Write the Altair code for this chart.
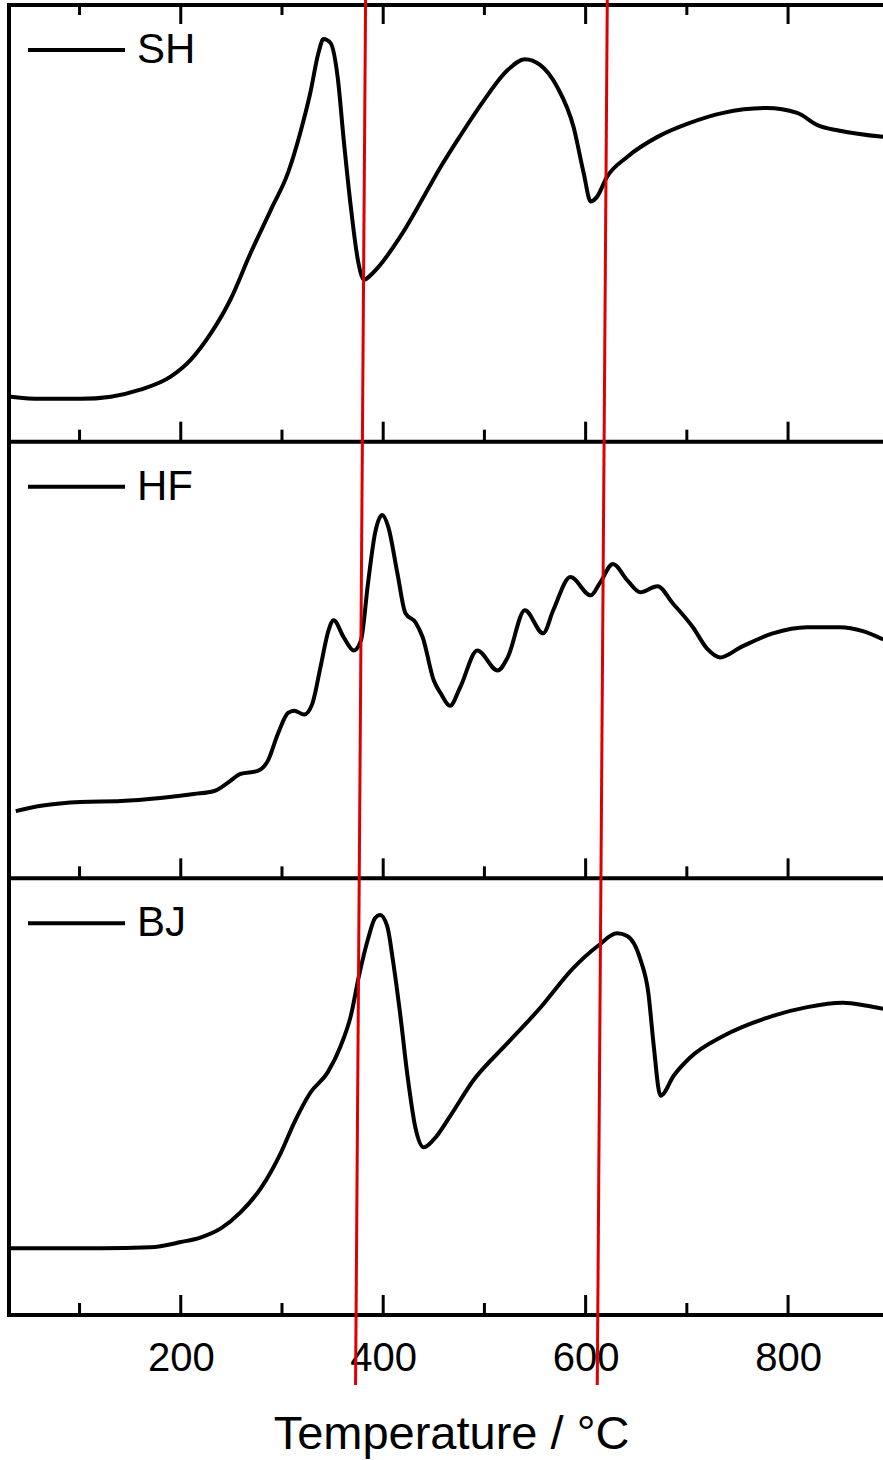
import altair as alt
import pandas as pd

# ---------------- data ----------------
series_names = ["SH", "HF", "BJ"]

sh_temp = [32, 62, 101, 131, 160, 190, 210, 230, 249, 269, 289, 306, 318, 328, 336, 341,
           348, 355, 361, 368, 375, 381, 390, 417, 441, 457, 476, 499, 523, 540, 555, 572,
           588, 598, 605, 611, 621, 641, 671, 703, 736, 779, 809, 829, 851, 894]
sh_signal = [10.3, 9.8, 9.8, 10.3, 11.9, 14.9, 18.8, 24.9, 32.5, 43.2, 53.1, 61.6, 70.7, 79.9, 89.0, 92.2,
             91.3, 83.5, 69.1, 53.8, 41.6, 37.1, 38.7, 47.0, 56.5, 63.0, 70.0, 78.0, 85.1, 87.6, 86.3, 81.2,
             72.1, 61.6, 55.0, 56.0, 60.6, 65.2, 69.8, 73.0, 75.3, 76.4, 75.3, 72.5, 71.2, 69.8]

hf_temp = [37, 62, 101, 141, 180, 213, 233, 246, 259, 276, 286, 296, 306, 312, 322, 330,
           338, 346, 351, 361, 371, 378, 385, 392, 399, 405, 414, 422, 432, 439, 450, 457,
           466, 476, 493, 513, 523, 540, 558, 568, 585, 605, 614, 627, 641, 654, 671, 686,
           706, 720, 733, 753, 785, 819, 851, 874, 894]
hf_signal = [15.4, 16.6, 17.5, 17.7, 18.4, 19.3, 20.0, 21.8, 23.9, 24.6, 26.9, 33.1, 37.9, 38.4, 37.5, 40.0,
             48.3, 56.8, 59.1, 55.2, 52.2, 54.5, 67.6, 79.1, 83.2, 80.5, 69.9, 60.7, 58.6, 55.2, 45.3, 42.3,
             39.5, 43.7, 52.2, 47.6, 50.6, 61.4, 56.1, 61.4, 69.0, 64.8, 67.6, 72.0, 68.3, 65.5, 66.9, 63.0,
             57.5, 52.6, 50.6, 52.9, 56.1, 57.5, 57.5, 56.6, 54.7]

bj_temp = [32, 72, 121, 170, 200, 220, 240, 259, 279, 299, 312, 328, 345, 358, 368, 376,
           385, 392, 397, 404, 410, 417, 424, 432, 440, 450, 466, 489, 523, 555, 588,
           612, 631, 641, 654, 662, 667, 674, 687, 703, 736, 785, 819, 854, 878, 894]
bj_signal = [15.3, 15.3, 15.3, 15.5, 16.7, 17.8, 19.9, 23.5, 29.0, 37.2, 44.0, 50.9, 55.5, 61.6, 68.5, 77.6,
             86.1, 90.9, 91.6, 89.0, 80.6, 68.5, 54.8, 42.7, 38.4, 40.2, 45.5, 53.7, 62.3, 70.3, 79.5,
             84.5, 87.4, 86.8, 81.5, 73.7, 62.3, 50.2, 54.8, 58.9, 63.9, 68.5, 70.5, 71.5, 70.8, 70.1]

major_ticks = [200, 400, 600, 800]
minor_ticks = [100, 300, 500, 700]

# red guide lines: temperature where each crosses the top and the bottom of the figure
guide_top_temp = [382.6, 621.4]
guide_bottom_temp = [372.7, 611.5]

# ---------------- layout ----------------
X_DOMAIN = [30.3, 893.8]
W, H = 874, 1310
FONT = "Liberation Sans"
panel_offset = {"SH": 2, "HF": 1, "BJ": 0}

rows = []
for name, ts, vs in zip(series_names, [sh_temp, hf_temp, bj_temp], [sh_signal, hf_signal, bj_signal]):
    for t, v in zip(ts, vs):
        rows.append({"series": name, "T": t, "y": panel_offset[name] + v / 100.0})
curves = pd.DataFrame(rows)

x_scale = alt.Scale(domain=X_DOMAIN, nice=False, zero=False)
y_scale = alt.Scale(domain=[0, 3], nice=False, zero=False)

base_x_axis = alt.Axis(
    values=major_ticks, format="d", labelFont=FONT, labelFontSize=40, labelColor="black",
    labelPadding=23, ticks=False, tickSize=0, domain=False, grid=False,
    title="Temperature / °C", titleFont=FONT, titleFontSize=47, titleFontWeight="normal",
    titleColor="black", titleBaseline="alphabetic", titleY=133, titleX=442,
)

curve_layer = alt.Chart(curves).mark_line(
    color="black", strokeWidth=4, interpolate="monotone"
).encode(
    x=alt.X("T:Q", scale=x_scale, axis=base_x_axis),
    y=alt.Y("y:Q", scale=y_scale, axis=None),
    detail="series:N",
)

# frame: horizontal boundaries + left border
bounds = pd.DataFrame({"b": [0, 1, 2, 3]})
hframe = alt.Chart(bounds).mark_rule(color="black", strokeWidth=4, strokeCap="square").encode(
    y=alt.Y("b:Q", scale=y_scale, axis=None),
    x=alt.value(0), x2=alt.value(W),
)
vframe = alt.Chart(bounds).mark_rule(color="black", strokeWidth=4, strokeCap="square").encode(
    x=alt.value(0), y=alt.value(0), y2=alt.value(H),
)

# ticks
tick_rows = []
for b in [0, 1, 2, 3]:
    for t in major_ticks:
        tick_rows.append({"T": t, "b": b, "kind": "major", "dir": "down" if b == 3 else "up"})
    for t in minor_ticks:
        tick_rows.append({"T": t, "b": b, "kind": "minor", "dir": "down" if b == 3 else "up"})
ticks = pd.DataFrame(tick_rows)


def tick_layer(kind, direction, length):
    off = length if direction == "down" else -length
    return alt.Chart(ticks).transform_filter(
        (alt.datum.kind == kind) & (alt.datum.dir == direction)
    ).mark_rule(color="black", strokeWidth=3, y2Offset=off).encode(
        x=alt.X("T:Q", scale=x_scale),
        y=alt.Y("b:Q", scale=y_scale),
        y2=alt.Y2("b:Q"),
    )


tick_layers = [
    tick_layer("major", "up", 20), tick_layer("minor", "up", 12),
    tick_layer("major", "down", 19), tick_layer("minor", "down", 10),
]

# in-panel legends
legend_df = pd.DataFrame({"series": series_names,
                          "top": [panel_offset[s] + 1 for s in series_names]})
legend_line = alt.Chart(legend_df).mark_rule(color="black", strokeWidth=4, yOffset=45).encode(
    x=alt.value(19), x2=alt.value(116),
    y=alt.Y("top:Q", scale=y_scale),
)
legend_text = alt.Chart(legend_df).mark_text(
    align="left", baseline="alphabetic", font=FONT, fontSize=42, color="black", yOffset=58
).encode(
    x=alt.value(128),
    y=alt.Y("top:Q", scale=y_scale),
    text="series:N",
)

# red guide lines
guides = pd.DataFrame({"t_top": guide_top_temp, "t_bot": guide_bottom_temp})
guide_layer = alt.Chart(guides).mark_rule(color="#dd0000", strokeWidth=3).encode(
    x=alt.X("t_top:Q", scale=x_scale),
    x2="t_bot:Q",
    y=alt.value(-5), y2=alt.value(1380),
)

chart = alt.layer(
    curve_layer, hframe, vframe, *tick_layers, legend_line, legend_text, guide_layer
).properties(
    width=W, height=H,
    autosize=alt.AutoSizeParams(type="none"),
    padding={"left": 9, "top": 5, "right": 0, "bottom": 145},
    background="white",
).configure_view(stroke=None)

chart.save("out.html", embed_options={"renderer": "svg", "actions": False})
